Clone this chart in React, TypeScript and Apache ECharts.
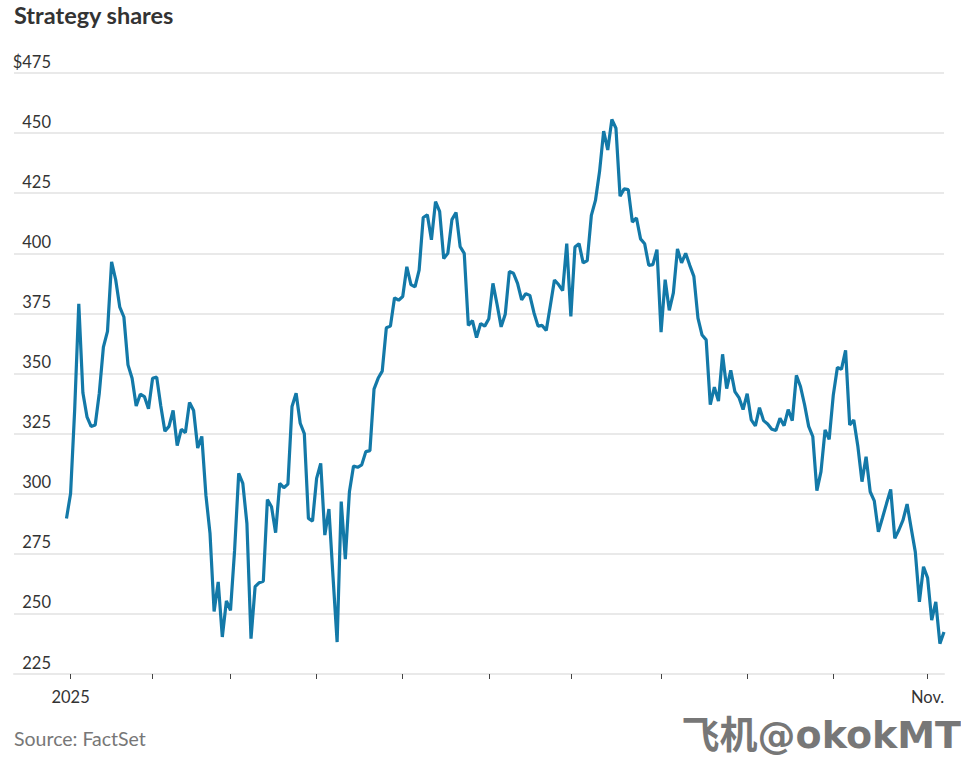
import { useEffect, useRef } from 'react'
import * as echarts from 'echarts'

const TITLE = 'Strategy shares'
const SOURCE = 'Source: FactSet'
const WATERMARK = '飞机@okokMT'

// closing price per trading day, Dec 31 2024 onward
const prices = [
  289.7, 300.1, 335, 379, 342, 332, 328, 328.6, 341.8, 361,
  367.5, 396.4, 389, 377.6, 373.5, 353.6, 348, 336.5, 341.4, 340.4,
  335.3, 348, 348.5, 336.5, 326, 328, 334.6, 320, 326.8, 325.4,
  338, 334.6, 319, 323.8, 299.4, 283.5, 251, 263.3, 240.4, 255.4,
  251.5, 276.5, 308.5, 304.3, 287.6, 239.7, 261.3, 263, 263.6, 297.6,
  294.6, 283.8, 304.3, 302.5, 304, 336.3, 341.8, 329.3, 325, 289.7,
  288.6, 306.4, 312.6, 282.8, 293.6, 265.4, 238.3, 296.7, 272.8, 300.8,
  311.5, 311, 312, 317.5, 317.9, 343.5, 348, 351, 369, 369.7,
  381.5, 380.5, 382, 394.4, 387, 386, 393, 414.9, 416, 405.6,
  421.5, 417.4, 397.8, 400, 414, 417, 402.8, 400, 370, 372,
  364.9, 370.8, 369.7, 372.8, 387.5, 378.8, 369.4, 374.6, 392.4, 391.7,
  387.5, 380.6, 383.2, 382.5, 375.3, 369.7, 370, 367.9, 378.3, 388.9,
  387, 384.5, 404, 373.8, 402.6, 404, 396, 397, 415.8, 422,
  434, 450.8, 443, 455.7, 452, 423.8, 426.8, 426.5, 413, 414.7,
  406, 404, 395, 395.3, 401.5, 367.2, 389, 376.3, 383.5, 401.8,
  396, 400, 395, 390.4, 373, 366, 364, 337, 344.3, 338.5,
  358, 343.7, 351.3, 342.5, 340, 335, 341.6, 330.7, 328.2, 335.8,
  330.4, 329, 326.8, 326.3, 331.4, 328.3, 335, 330.4, 349.2, 344.6,
  337, 328, 323.8, 301.3, 309.2, 326.5, 322.6, 341, 352.5, 351.8,
  359.6, 328.6, 330.7, 319.6, 305, 315.4, 300.8, 297, 284.2, 290,
  296, 301.8, 281.4, 284.9, 289, 295.7, 285.6, 275.8, 255, 269.6,
  265, 247.4, 255, 237.6, 242.5,
]

// index of the first trading day of each month, Jan to Nov
const monthStarts = [1, 21, 40, 61, 82, 103, 123, 145, 166, 187, 210]
const monthLabels: Record<number, string> = { 1: '2025', 210: 'Nov.' }

const FONT = 'Lato, "Noto Sans", sans-serif'

export default function App() {
  const chartRef = useRef<HTMLDivElement>(null)

  useEffect(() => {
    if (!chartRef.current) return
    document.body.style.margin = '0'

    const chart = echarts.init(chartRef.current, undefined, { renderer: 'svg' })

    const option: echarts.EChartsOption = {
      animation: false,
      backgroundColor: '#fff',
      title: {
        text: TITLE,
        left: 14,
        top: 3,
        padding: 0,
        textStyle: { fontFamily: FONT, fontSize: 23.5, fontWeight: 'bold', color: '#333' },
      },
      grid: { top: 73, bottom: 83, left: 14, right: 17 },
      xAxis: {
        type: 'value',
        min: -12.8,
        max: prices.length - 1,
        splitLine: { show: false },
        axisLine: { onZero: false, lineStyle: { color: '#e9e9e9', width: 2 } },
        axisTick: {
          show: true,
          customValues: monthStarts,
          length: 5,
          lineStyle: { color: '#444', width: 1 },
        },
        axisLabel: {
          customValues: monthStarts.filter((m) => monthLabels[m]),
          formatter: (value: number) => monthLabels[value] ?? '',
          margin: 14,
          fontFamily: FONT,
          fontSize: 16.5,
          color: '#333',
        },
      },
      yAxis: {
        type: 'value',
        min: 225,
        max: 475,
        interval: 25,
        axisLine: { show: false },
        axisTick: { show: false },
        splitLine: { lineStyle: { color: '#e9e9e9', width: 2 } },
        axisLabel: {
          inside: true,
          align: 'right',
          verticalAlign: 'bottom',
          margin: 37,
          padding: [0, 0, 3, 0],
          formatter: (value: number) => (value === 475 ? `$${value}` : `${value}`),
          fontFamily: FONT,
          fontSize: 16.5,
          color: '#333',
        },
      },
      series: [
        {
          type: 'line',
          data: prices.map((p, i) => [i, p]),
          showSymbol: false,
          lineStyle: { color: '#1379a8', width: 3.2 },
        },
      ],
      graphic: [
        {
          type: 'text',
          left: 14,
          top: 728,
          style: { text: SOURCE, fontFamily: FONT, fontSize: 19.5, fill: '#777' },
        },
        {
          type: 'text',
          right: 0,
          top: 716,
          style: {
            text: WATERMARK,
            fontFamily: '"DejaVu Sans", "Noto Sans CJK SC", sans-serif',
            fontSize: 38,
            fontWeight: 'bold',
            fill: '#777',
          },
        },
      ],
    }

    chart.setOption(option)
    return () => chart.dispose()
  }, [])

  return <div ref={chartRef} style={{ width: 961, height: 757 }} />
}
